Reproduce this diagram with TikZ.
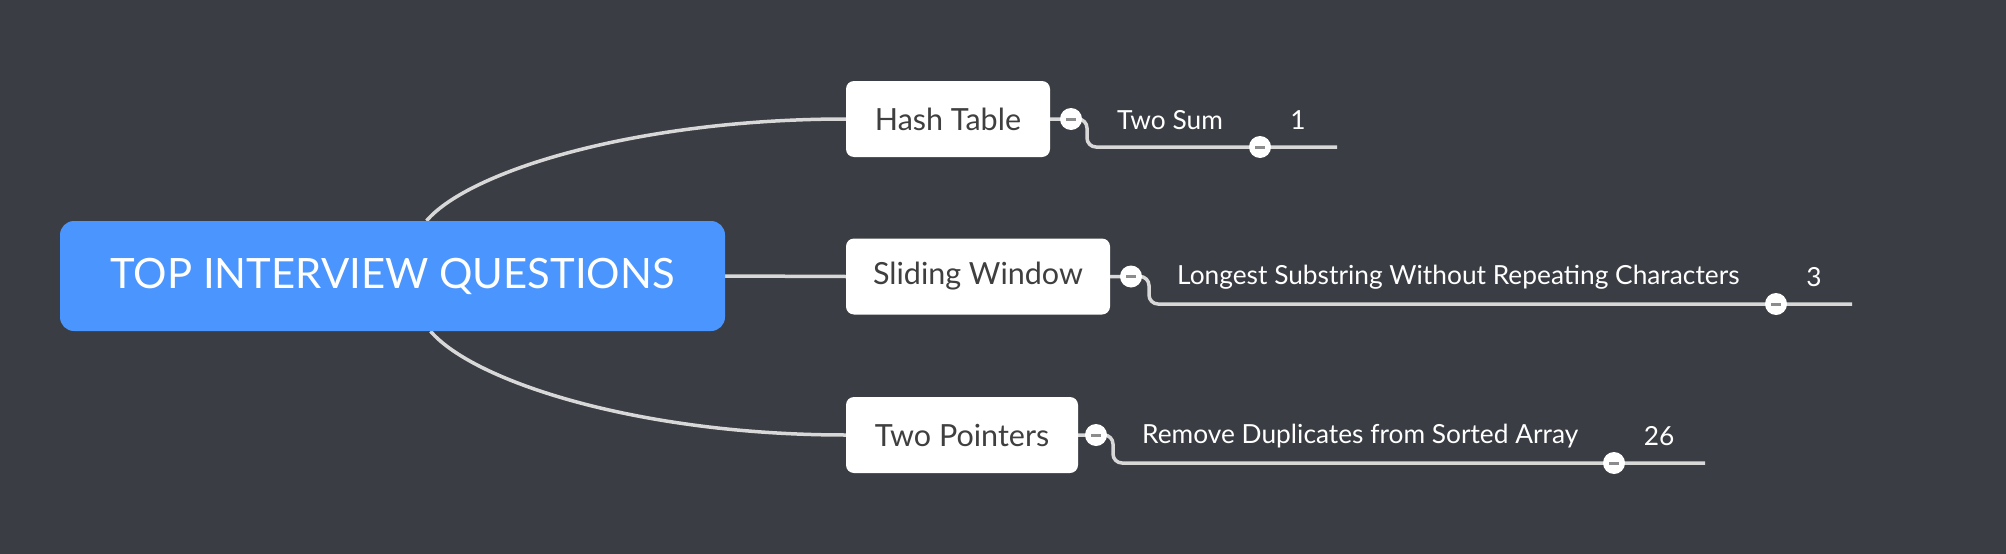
\documentclass[tikz,border=0pt]{standalone}
\usepackage{fontspec}
\setmainfont{Lato}
\usetikzlibrary{backgrounds}
\definecolor{bgc}{HTML}{3A3D43}
\definecolor{rootblue}{HTML}{4A95FE}
\definecolor{linec}{HTML}{D8D8D8}
\definecolor{boxtext}{HTML}{3F3F3F}
\definecolor{minusc}{HTML}{8C8C8C}
\begin{document}
\begin{tikzpicture}[x=1pt,y=-1pt,
  rootbox/.style={fill=rootblue, rounded corners=14pt, minimum width=665pt, minimum height=110pt, inner sep=0pt, text=white, font=\fontsize{41.8}{50}\selectfont},
  topic/.style={fill=white, rounded corners=8pt, minimum height=76pt, inner sep=0pt, text=boxtext, font=\fontsize{30.5}{36}\selectfont},
  leaf/.style={anchor=west, inner sep=0pt, text=white, font=\fontsize{26.3}{31}\selectfont},
  num/.style={inner sep=0pt, text=white, font=\fontsize{26.3}{31}\selectfont},
  conn/.style={draw=linec, line width=3.5pt},
  knob/.style={circle, fill=white, minimum size=22pt, inner sep=0pt,
    path picture={\draw[minusc, line width=3pt] ([xshift=-5pt]path picture bounding box.center) -- ([xshift=5pt]path picture bounding box.center);}}
]
\begin{scope}[on background layer]
\fill[bgc] (0,0) rectangle (2006,554);
\end{scope}
\useasboundingbox (0,0) rectangle (2006,554);

\node[rootbox] (root) at (392.5,276) {TOP INTERVIEW QUESTIONS};
\node[topic, minimum width=204pt] (hash) at (948,119) {Hash Table};
\node[topic, minimum width=264pt] (slide) at (978,276.5) {Sliding Window};
\node[topic, minimum width=232pt] (two) at (962,435) {Two Pointers};

% leaves
\node[leaf] (l1) at (1117,120) {Two Sum};
\node[num] (n1) at (1298,120) {1};
\node[leaf] (l2) at (1177,277) {Longest Substring Without Repeating Characters};
\node[num] (n2) at (1814,277) {3};
\node[leaf] (l3) at (1142,436) {Remove Duplicates from Sorted Array};
\node[num] (n3) at (1659,436) {26};

\coordinate (hc) at (1087,119); \coordinate (he) at (1337,147);
\coordinate (sc) at (1149,276.5); \coordinate (se) at (1852,304);
\coordinate (tc) at (1113,435); \coordinate (te) at (1705,463);

\begin{scope}[on background layer]
\draw[conn] ([xshift=34pt]root.north) .. controls (470,170) and (640,119) .. (hash.west);
\draw[conn] ([xshift=38pt]root.south) .. controls (474,382) and (640,435) .. (two.west);
\draw[conn] (root.east) -- (slide.west);
\draw[conn, rounded corners=9pt] (hash.east) -- (hc) |- (he);
\draw[conn, rounded corners=9pt] (slide.east) -- (sc) |- (se);
\draw[conn, rounded corners=9pt] (two.east) -- (tc) |- (te);
\end{scope}

\node[knob] (k1) at (1071,119) {};
\node[knob] (k2) at (1260,147) {};
\node[knob] (k3) at (1131,276.5) {};
\node[knob] (k4) at (1776,304) {};
\node[knob] (k5) at (1096,435) {};
\node[knob] (k6) at (1614,463) {};
\end{tikzpicture}
\end{document}
